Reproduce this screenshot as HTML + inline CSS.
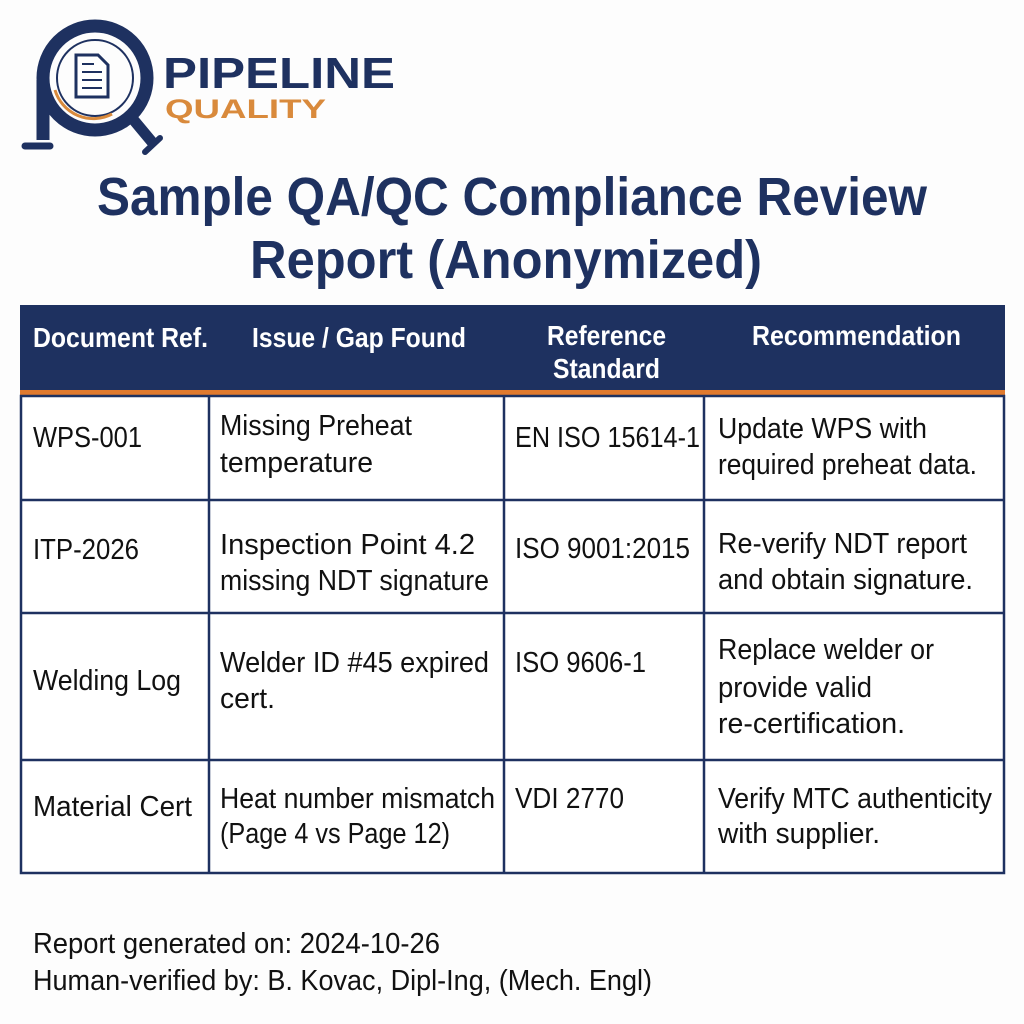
<!DOCTYPE html>
<html><head><meta charset="utf-8"><style>
html,body{margin:0;padding:0;background:#fff;width:1024px;height:1024px;overflow:hidden}
svg text{font-family:"Liberation Sans",sans-serif}
</style></head><body>
<svg width="1024" height="1024" viewBox="0 0 1024 1024" xmlns="http://www.w3.org/2000/svg">
<rect width="1024" height="1024" fill="#fdfdfd"/>
<!-- logo -->
<g fill="none" stroke="#1e3160">
<circle cx="95" cy="78" r="52" stroke-width="13"/>
<path d="M43 80 L43 140" stroke-width="13"/>
<path d="M25 146 L50 146" stroke-width="7" stroke-linecap="round"/>
<path d="M132 118 L152 142" stroke-width="11"/>
<path d="M145 152 L160 138" stroke-width="6" stroke-linecap="round"/>
<circle cx="95" cy="78" r="38" stroke-width="2"/>
</g>
<path d="M55 90 A40 40 0 0 0 112 114" fill="none" stroke="#d98a3c" stroke-width="3"/>
<path d="M76 55 L98 55 L108 65 L108 97 L76 97 Z" fill="#fff" stroke="#1e3160" stroke-width="3"/>
<g stroke="#1e3160" stroke-width="2"><line x1="82" y1="64" x2="94" y2="64"/><line x1="82" y1="72" x2="102" y2="72"/><line x1="82" y1="80" x2="102" y2="80"/><line x1="82" y1="88" x2="102" y2="88"/></g>
<text x="163" y="88" font-size="44" font-weight="bold" fill="#1e3160" textLength="232" lengthAdjust="spacingAndGlyphs">PIPELINE</text>
<text x="165" y="118" font-size="27" font-weight="bold" fill="#d98a3c" textLength="161" lengthAdjust="spacingAndGlyphs">QUALITY</text>
<!-- title -->
<g font-weight="bold" fill="#1e3160" font-size="54">
<text x="97" y="215" textLength="830" lengthAdjust="spacingAndGlyphs">Sample QA/QC Compliance Review</text>
<text x="250" y="278" textLength="512" lengthAdjust="spacingAndGlyphs">Report (Anonymized)</text>
</g>
<!-- table -->
<rect x="20" y="305" width="985" height="87" fill="#1e3160"/>
<rect x="20" y="390" width="985" height="6" fill="#e07a2e"/>
<rect x="21" y="396" width="983" height="477" fill="#fff" stroke="#1e3160" stroke-width="2.5"/>
<g stroke="#1e3160" stroke-width="2.5">
<line x1="20" y1="500" x2="1005" y2="500"/>
<line x1="20" y1="613" x2="1005" y2="613"/>
<line x1="20" y1="760" x2="1005" y2="760"/>
<line x1="209" y1="396" x2="209" y2="873"/>
<line x1="504" y1="396" x2="504" y2="873"/>
<line x1="704" y1="396" x2="704" y2="873"/>
</g>
<g font-weight="bold" fill="#fff" font-size="28">
<text x="33" y="347" textLength="175" lengthAdjust="spacingAndGlyphs">Document Ref.</text>
<text x="252" y="347" textLength="214" lengthAdjust="spacingAndGlyphs">Issue / Gap Found</text>
<text x="547" y="345" textLength="119" lengthAdjust="spacingAndGlyphs">Reference</text>
<text x="553" y="378" textLength="107" lengthAdjust="spacingAndGlyphs">Standard</text>
<text x="752" y="345" textLength="209" lengthAdjust="spacingAndGlyphs">Recommendation</text>
</g>
<g fill="#111" font-size="29">
<text x="33" y="447" textLength="109" lengthAdjust="spacingAndGlyphs">WPS-001</text>
<text x="220" y="435" textLength="192" lengthAdjust="spacingAndGlyphs">Missing Preheat</text>
<text x="220" y="472" textLength="153" lengthAdjust="spacingAndGlyphs">temperature</text>
<text x="515" y="447" textLength="185" lengthAdjust="spacingAndGlyphs">EN ISO 15614-1</text>
<text x="718" y="438" textLength="209" lengthAdjust="spacingAndGlyphs">Update WPS with</text>
<text x="718" y="474" textLength="259" lengthAdjust="spacingAndGlyphs">required preheat data.</text>

<text x="33" y="559" textLength="106" lengthAdjust="spacingAndGlyphs">ITP-2026</text>
<text x="220" y="554" textLength="255" lengthAdjust="spacingAndGlyphs">Inspection Point 4.2</text>
<text x="220" y="590" textLength="269" lengthAdjust="spacingAndGlyphs">missing NDT signature</text>
<text x="515" y="558" textLength="175" lengthAdjust="spacingAndGlyphs">ISO 9001:2015</text>
<text x="718" y="553" textLength="249" lengthAdjust="spacingAndGlyphs">Re-verify NDT report</text>
<text x="718" y="589" textLength="255" lengthAdjust="spacingAndGlyphs">and obtain signature.</text>

<text x="33" y="690" textLength="148" lengthAdjust="spacingAndGlyphs">Welding Log</text>
<text x="220" y="672" textLength="269" lengthAdjust="spacingAndGlyphs">Welder ID #45 expired</text>
<text x="220" y="708" textLength="55" lengthAdjust="spacingAndGlyphs">cert.</text>
<text x="515" y="672" textLength="131" lengthAdjust="spacingAndGlyphs">ISO 9606-1</text>
<text x="718" y="659" textLength="216" lengthAdjust="spacingAndGlyphs">Replace welder or</text>
<text x="718" y="697" textLength="154" lengthAdjust="spacingAndGlyphs">provide valid</text>
<text x="718" y="733" textLength="187" lengthAdjust="spacingAndGlyphs">re-certification.</text>

<text x="33" y="816" textLength="159" lengthAdjust="spacingAndGlyphs">Material Cert</text>
<text x="220" y="808" textLength="275" lengthAdjust="spacingAndGlyphs">Heat number mismatch</text>
<text x="220" y="843" textLength="230" lengthAdjust="spacingAndGlyphs">(Page 4 vs Page 12)</text>
<text x="515" y="808" textLength="109" lengthAdjust="spacingAndGlyphs">VDI 2770</text>
<text x="718" y="808" textLength="274" lengthAdjust="spacingAndGlyphs">Verify MTC authenticity</text>
<text x="718" y="843" textLength="162" lengthAdjust="spacingAndGlyphs">with supplier.</text>
</g>
<g fill="#111" font-size="29">
<text x="33" y="953" textLength="407" lengthAdjust="spacingAndGlyphs">Report generated on: 2024-10-26</text>
<text x="33" y="990" textLength="619" lengthAdjust="spacingAndGlyphs">Human-verified by: B. Kovac, Dipl-Ing, (Mech. Engl)</text>
</g>
</svg>
</body></html>
